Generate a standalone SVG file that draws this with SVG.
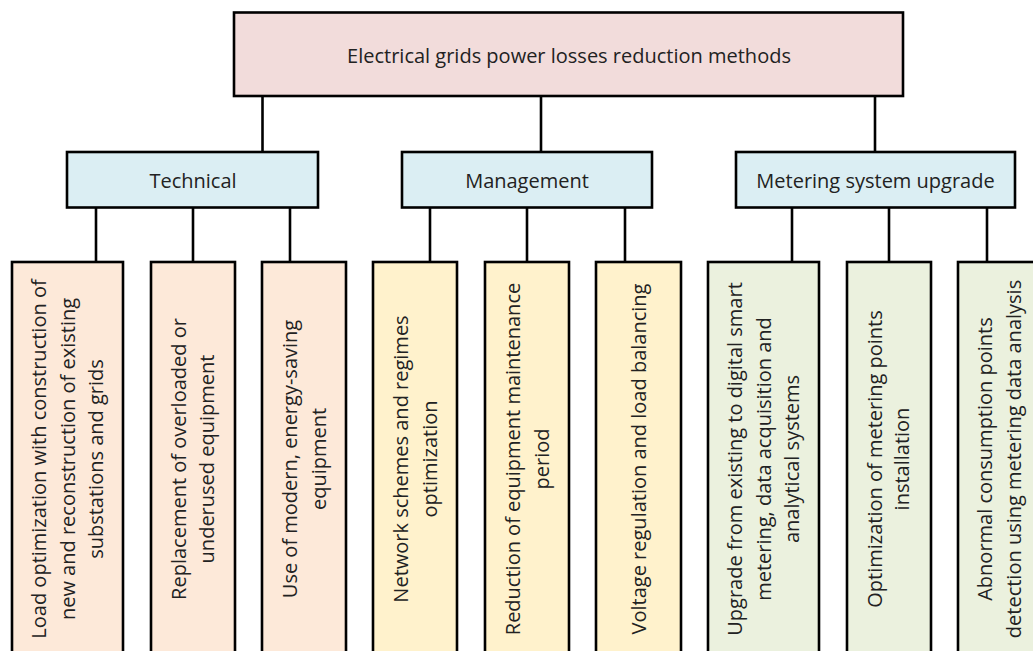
<svg xmlns="http://www.w3.org/2000/svg" width="1033" height="651" viewBox="0 0 1033 651">
<style>
  .box{stroke:#000;stroke-width:2.6}
  .root{fill:#F2DCDB}
  .cat{fill:#DBEEF3}
  .tech{fill:#FDE9D9}
  .mgmt{fill:#FFF2CC}
  .meter{fill:#EBF1DE}
  .t{font-family:"Open Sans","Noto Sans",sans-serif;font-size:20px;fill:#222;text-anchor:middle}
  .conn line{stroke:#000;stroke-width:2.6}
</style>
<rect width="1033" height="651" fill="#fff"/>
<g id="connectors" class="conn">
  <line x1="262.5" y1="96" x2="262.5" y2="152"/>
  <line x1="541" y1="96" x2="541" y2="152"/>
  <line x1="875" y1="96" x2="875" y2="152"/>
  <line x1="96" y1="207.5" x2="96" y2="262"/>
  <line x1="193" y1="207.5" x2="193" y2="262"/>
  <line x1="290" y1="207.5" x2="290" y2="262"/>
  <line x1="430" y1="207.5" x2="430" y2="262"/>
  <line x1="527" y1="207.5" x2="527" y2="262"/>
  <line x1="625" y1="207.5" x2="625" y2="262"/>
  <line x1="792" y1="207.5" x2="792" y2="262"/>
  <line x1="889" y1="207.5" x2="889" y2="262"/>
  <line x1="987" y1="207.5" x2="987" y2="262"/>
</g>
<g id="root">
  <rect class="box root" x="234" y="12.5" width="669" height="83.5"/>
  <text class="t" x="569" y="62.5">Electrical grids power losses reduction methods</text>
</g>
<g id="technical">
  <rect class="box cat" x="67" y="152" width="251" height="55.5"/>
  <text class="t" x="193" y="187.5">Technical</text>
</g>
<g id="management">
  <rect class="box cat" x="402" y="152" width="250" height="55.5"/>
  <text class="t" x="527" y="187.5">Management</text>
</g>
<g id="metering">
  <rect class="box cat" x="736" y="152" width="279" height="55.5"/>
  <text class="t" x="875.5" y="187.5">Metering system upgrade</text>
</g>
<g id="leaf1">
  <rect class="box tech" x="12" y="262" width="111" height="400"/>
  <text class="t" transform="translate(46,459) rotate(-90)"><tspan x="0" y="0">Load optimization with construction of</tspan><tspan x="0" y="28.5">new and reconstruction of existing</tspan><tspan x="0" y="57">substations and grids</tspan></text>
</g>
<g id="leaf2">
  <rect class="box tech" x="151" y="262" width="84" height="400"/>
  <text class="t" transform="translate(185.5,459) rotate(-90)"><tspan x="0" y="0">Replacement of overloaded or</tspan><tspan x="0" y="28.5">underused equipment</tspan></text>
</g>
<g id="leaf3">
  <rect class="box tech" x="262" y="262" width="84" height="400"/>
  <text class="t" transform="translate(297,459) rotate(-90)"><tspan x="0" y="0">Use of modern, energy-saving</tspan><tspan x="0" y="28.5">equipment</tspan></text>
</g>
<g id="leaf4">
  <rect class="box mgmt" x="373" y="262" width="84" height="400"/>
  <text class="t" transform="translate(408,459) rotate(-90)"><tspan x="0" y="0">Network schemes and regimes</tspan><tspan x="0" y="28.5">optimization</tspan></text>
</g>
<g id="leaf5">
  <rect class="box mgmt" x="485" y="262" width="84" height="400"/>
  <text class="t" transform="translate(520,459) rotate(-90)"><tspan x="0" y="0">Reduction of equipment maintenance</tspan><tspan x="0" y="28.5">period</tspan></text>
</g>
<g id="leaf6">
  <rect class="box mgmt" x="596" y="262" width="85" height="400"/>
  <text class="t" transform="translate(646,459) rotate(-90)">Voltage regulation and load balancing</text>
</g>
<g id="leaf7">
  <rect class="box meter" x="708" y="262" width="111" height="400"/>
  <text class="t" transform="translate(742,459) rotate(-90)"><tspan x="0" y="0">Upgrade from existing to digital smart</tspan><tspan x="0" y="28.5">metering, data acquisition and</tspan><tspan x="0" y="57">analytical systems</tspan></text>
</g>
<g id="leaf8">
  <rect class="box meter" x="847" y="262" width="84" height="400"/>
  <text class="t" transform="translate(882,459) rotate(-90)"><tspan x="0" y="0">Optimization of metering points</tspan><tspan x="0" y="27">installation</tspan></text>
</g>
<g id="leaf9">
  <rect class="box meter" x="958" y="262" width="84" height="400"/>
  <text class="t" transform="translate(992,459) rotate(-90)"><tspan x="0" y="0">Abnormal consumption points</tspan><tspan x="0" y="29">detection using metering data analysis</tspan></text>
</g>
</svg>
